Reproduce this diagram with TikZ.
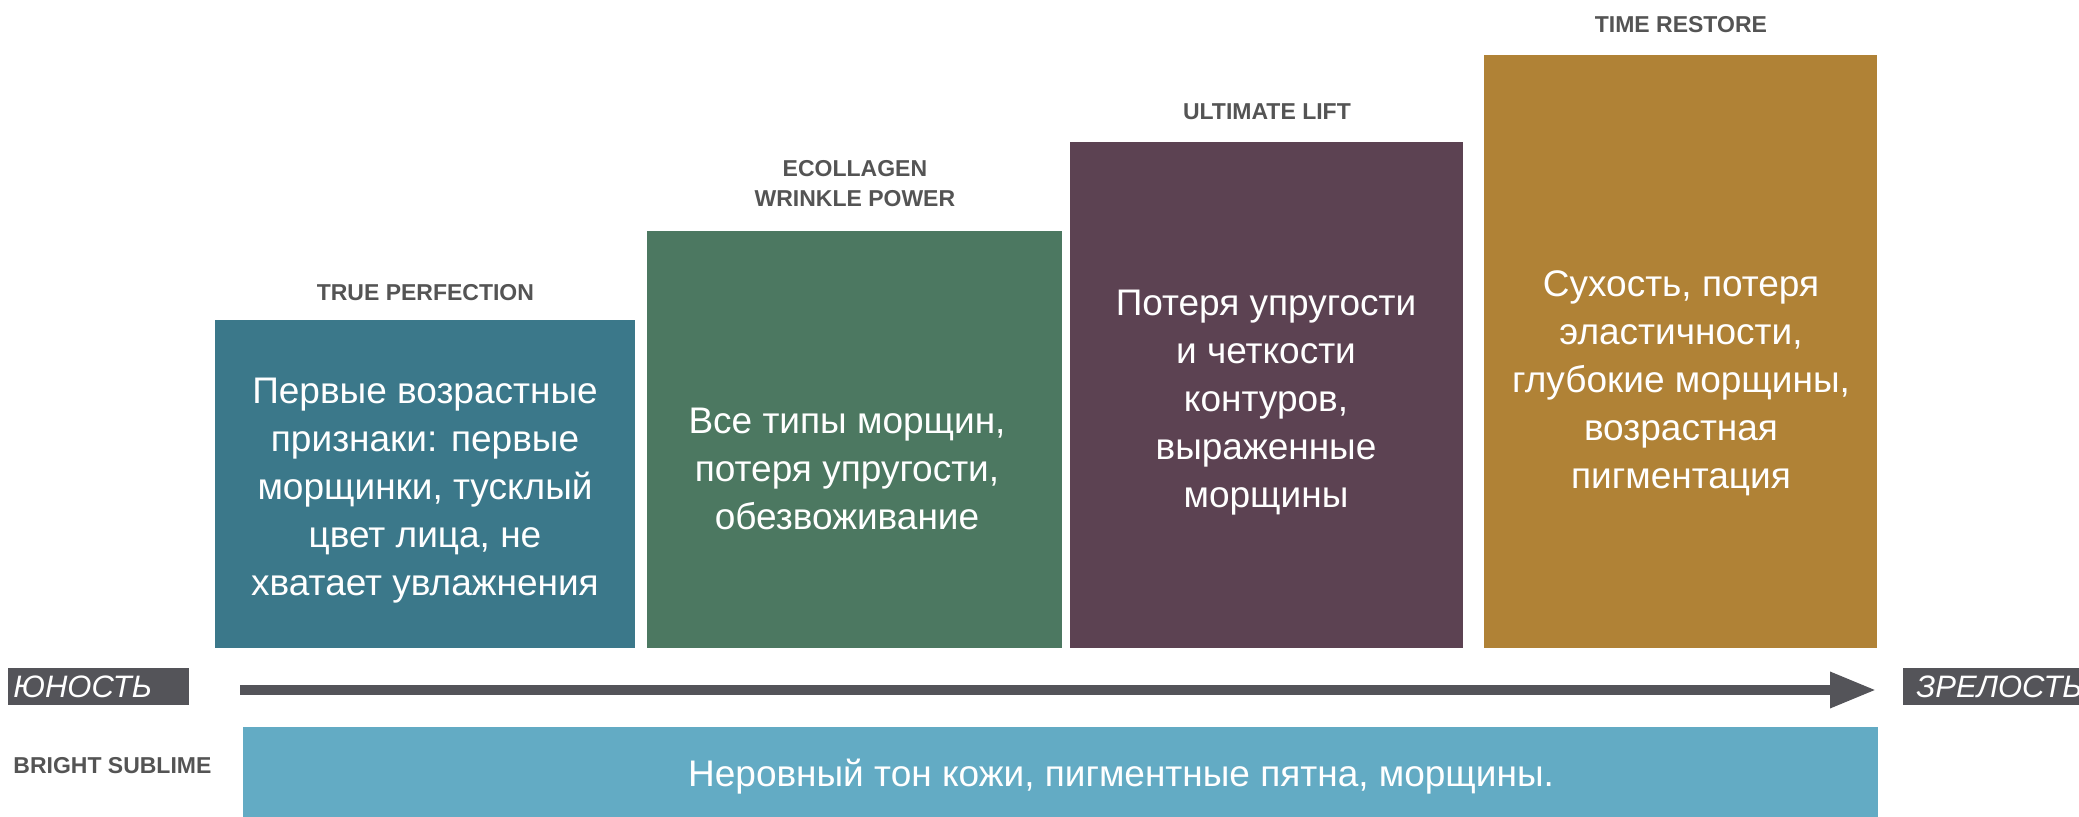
\documentclass[tikz,border=0pt]{standalone}
\usepackage{fontspec}
\setmainfont{Liberation Sans}
\usetikzlibrary{positioning,arrows.meta}
\definecolor{tpclr}{rgb}{0.23, 0.47, 0.54}
\definecolor{ecoclr}{rgb}{0.30, 0.47, 0.38}
\definecolor{liftclr}{rgb}{0.36, 0.26, 0.32}
\definecolor{timeclr}{rgb}{0.69, 0.51, 0.21}
\definecolor{brightclr}{rgb}{0.39, 0.67, 0.77}
\definecolor{axisclr}{rgb}{0.33, 0.33, 0.35}
\definecolor{captclr}{rgb}{0.33, 0.33, 0.33}
\tikzset{ %
  ,>={Triangle[length=23pt, width=17pt]}
  ,stage/.style={rectangle, inner sep=0, anchor=south west}
  ,note/.style={align=center, text=white, inner sep=0, font=\fontsize{18.5}{24}\selectfont}
  ,caption/.style={align=center, text=captclr, inner sep=0, node distance=10.5pt, font=\bfseries\fontsize{11.5}{15}\selectfont}
  ,tag/.style={fill=axisclr, text=white, align=left, anchor=west, inner ysep=0, inner xsep=2.5pt, minimum height=18.5pt, font=\itshape\fontsize{15.5}{18}\selectfont}
  ,axis/.style={->, line width=4.75pt, draw=axisclr}
}
\begin{document}
\begin{tikzpicture}[x=0.5pt, y=-0.5pt]
  \useasboundingbox (0,0) rectangle (2079,817);
  % product columns
  \node[stage, fill=tpclr, minimum width=210pt, minimum height=164pt] (tp) at (215,648) {};
  \node[stage, fill=ecoclr, minimum width=207.5pt, minimum height=208.5pt] (eco) at (647,648) {};
  \node[stage, fill=liftclr, minimum width=196.5pt, minimum height=253pt] (lift) at (1070,648) {};
  \node[stage, fill=timeclr, minimum width=196.5pt, minimum height=296.5pt] (time) at (1484,648) {};
  \node[stage, fill=brightclr, minimum width=817.5pt, minimum height=45pt] (bright) at (243,817) {};
  % names
  \draw
  node[caption, above=9pt of tp] (tphead) {TRUE PERFECTION}
  node[caption, above=11.5pt of eco] (ecohead) {ECOLLAGEN\\WRINKLE POWER}
  node[caption, above=of lift] (lifthead) {ULTIMATE LIFT}
  node[caption, above=of time] (timehead) {TIME RESTORE}
  node[caption, anchor=west] (brighthead) at (13,766) {BRIGHT SUBLIME};
  % texts
  \node[note] (tptxt) at (425,491) {Первые возрастные\\признаки: первые\\морщинки, тусклый\\цвет лица, не\\хватает увлажнения};
  \node[note] (ecotxt) at (847,469) {Все типы морщин,\\потеря упругости,\\обезвоживание};
  \node[note] (lifttxt) at (1266,403) {Потеря упругости\\и четкости\\контуров,\\выраженные\\морщины};
  \node[note] (timetxt) at (1681,383) {Сухость, потеря\\эластичности,\\глубокие морщины,\\возрастная\\пигментация};
  \node[note] (brighttxt) at (1121,777) {Неровный тон кожи, пигментные пятна, морщины.};
  % age axis
  \node[tag, text width=85.5pt] (youth) at (8,687) {ЮНОСТЬ};
  \node[tag, text width=81.5pt, inner xsep=6.5pt] (maturity) at (1903,687) {ЗРЕЛОСТЬ};
  \coordinate (young) at (240,690);
  \coordinate (old) at (1876,690);
  \draw[axis] (young) -- (old);
\end{tikzpicture}
\end{document}
